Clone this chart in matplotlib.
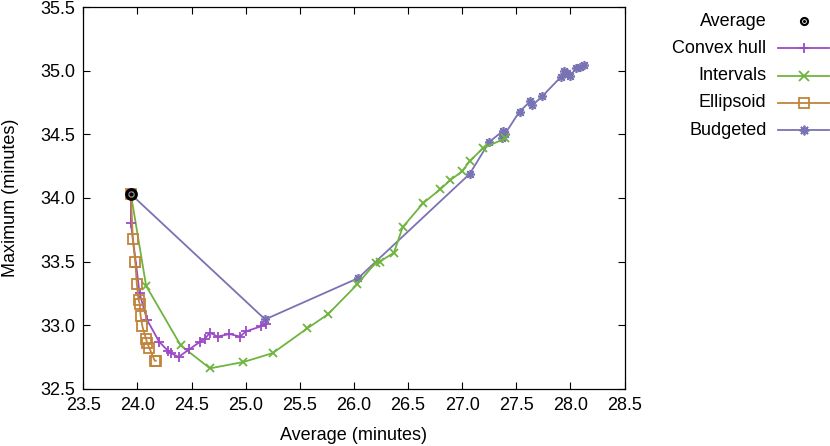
import matplotlib
matplotlib.use("Agg")
import matplotlib.pyplot as plt
from matplotlib.lines import Line2D

plt.rcParams['font.family'] = ['Liberation Sans', 'DejaVu Sans']
plt.rcParams['font.size'] = 13

avg_x = [23.94]
avg_y = [34.03]

hull_x = [23.94, 23.94, 23.99, 24.02, 24.09, 24.20, 24.28, 24.31, 24.38, 24.48,
          24.58, 24.62, 24.67, 24.74, 24.85, 24.95, 25.00, 25.14, 25.19]
hull_y = [34.03, 33.80, 33.46, 33.25, 33.04, 32.87, 32.80, 32.78, 32.75, 32.81,
          32.87, 32.89, 32.94, 32.91, 32.93, 32.91, 32.95, 32.99, 33.01]

int_x = [23.94, 24.08, 24.40, 24.67, 24.98, 25.25, 25.57, 25.76, 26.03, 26.20,
         26.24, 26.37, 26.45, 26.64, 26.80, 26.89, 27.00, 27.07, 27.19, 27.40]
int_y = [34.03, 33.31, 32.84, 32.66, 32.71, 32.78, 32.975, 33.085, 33.32, 33.49,
         33.50, 33.57, 33.77, 33.96, 34.07, 34.14, 34.21, 34.29, 34.39, 34.47]

ell_x = [23.94, 23.957, 23.98, 23.995, 24.01, 24.02, 24.03, 24.046, 24.08, 24.09,
         24.11, 24.16, 24.17]
ell_y = [34.03, 33.68, 33.50, 33.32, 33.20, 33.17, 33.07, 32.99, 32.89, 32.86,
         32.82, 32.72, 32.72]

bud_x = [23.94, 25.18, 26.04, 27.07, 27.25, 27.38, 27.40, 27.37, 27.53, 27.63,
         27.65, 27.74, 27.91, 27.94, 27.97, 28.00, 28.05, 28.09, 28.13]
bud_y = [34.03, 33.045, 33.37, 34.19, 34.44, 34.53, 34.50, 34.47, 34.68, 34.76,
         34.73, 34.80, 34.95, 35.00, 34.98, 34.96, 35.02, 35.03, 35.05]

xticks = [23.5, 24.0, 24.5, 25.0, 25.5, 26.0, 26.5, 27.0, 27.5, 28.0, 28.5]
yticks = [32.5, 33.0, 33.5, 34.0, 34.5, 35.0, 35.5]

c_hull = '#9b4bc8'
c_int = '#6fb43f'
c_ell = '#c0843c'
c_bud = '#7873b4'

fig = plt.figure(figsize=(8.3, 4.46), dpi=100)
ax_l, ax_r, ax_t, ax_b = 83.3, 624.5, 7.3, 388.7
ax = fig.add_axes([ax_l/830, 1 - ax_b/446, (ax_r-ax_l)/830, (ax_b-ax_t)/446])

lw = 1.3
ax.plot(bud_x, bud_y, color=c_bud, lw=lw, marker=(8, 2, 0), ms=6.5, mew=1.2, zorder=2)
ax.plot(int_x, int_y, color=c_int, lw=lw, marker='x', ms=6, mew=1.3, zorder=3)
ax.plot(hull_x, hull_y, color=c_hull, lw=lw, marker='+', ms=7.5, mew=1.3, zorder=4)
ax.plot(ell_x, ell_y, color=c_ell, lw=lw, marker='s', ms=7, mfc='none', mew=1.3, zorder=5)
ax.plot(avg_x, avg_y, ls='none', marker='o', ms=7, mfc='none', mec='black', mew=2.2, zorder=6)
ax.plot(avg_x, avg_y, ls='none', marker='o', ms=1.8, mfc='black', mec='black', zorder=7)

ax.set_xlim(23.5, 28.5)
ax.set_ylim(32.5, 35.5)
ax.set_xticks(xticks)
ax.set_yticks(yticks)
ax.set_xticklabels([f"{v:.1f}" for v in xticks])
ax.set_yticklabels([f"{v:.1f}" for v in yticks])
ax.tick_params(direction='in', top=True, right=True, length=5, width=0.8, pad=6, labelsize=13)
for s in ax.spines.values():
    s.set_linewidth(0.9)
ax.set_xlabel("Average (minutes)", fontsize=13, va='center')
ax.set_ylabel("Maximum (minutes)", fontsize=13, va='center', ha='center')
ax.xaxis.set_label_coords(0.5, (ax_b - 436) / (ax_b - ax_t))
ax.yaxis.set_label_coords((10 - ax_l) / (ax_r - ax_l), 0.5)

# legend (right-aligned labels, samples to the right)
entries = [
    ("Average", None, 'o'),
    ("Convex hull", c_hull, '+'),
    ("Intervals", c_int, 'x'),
    ("Ellipsoid", c_ell, 's'),
    ("Budgeted", c_bud, (8, 2, 0)),
]
y0 = 21
dy = 27.3
for i, (lab, col, mk) in enumerate(entries):
    yy = 1 - (y0 + i * dy) / 446
    fig.text(766.5 / 830, yy, lab, ha='right', va='center', fontsize=13)
    xs = [778 / 830, 803.5 / 830, 829 / 830]
    if col is None:
        fig.add_artist(Line2D([xs[1]], [yy], transform=fig.transFigure, ls='none',
                              marker='o', ms=5, mfc='none', mec='black', mew=1.6))
        fig.add_artist(Line2D([xs[1]], [yy], transform=fig.transFigure, ls='none',
                              marker='o', ms=1.2, mfc='black', mec='black'))
    else:
        kw = dict(mfc='none') if mk == 's' else {}
        fig.add_artist(Line2D(xs, [yy] * 3, transform=fig.transFigure, color=col, lw=lw,
                              marker=mk, markevery=[1], ms=7, mew=1.3, **kw))

fig.savefig("out.png", dpi=100)
